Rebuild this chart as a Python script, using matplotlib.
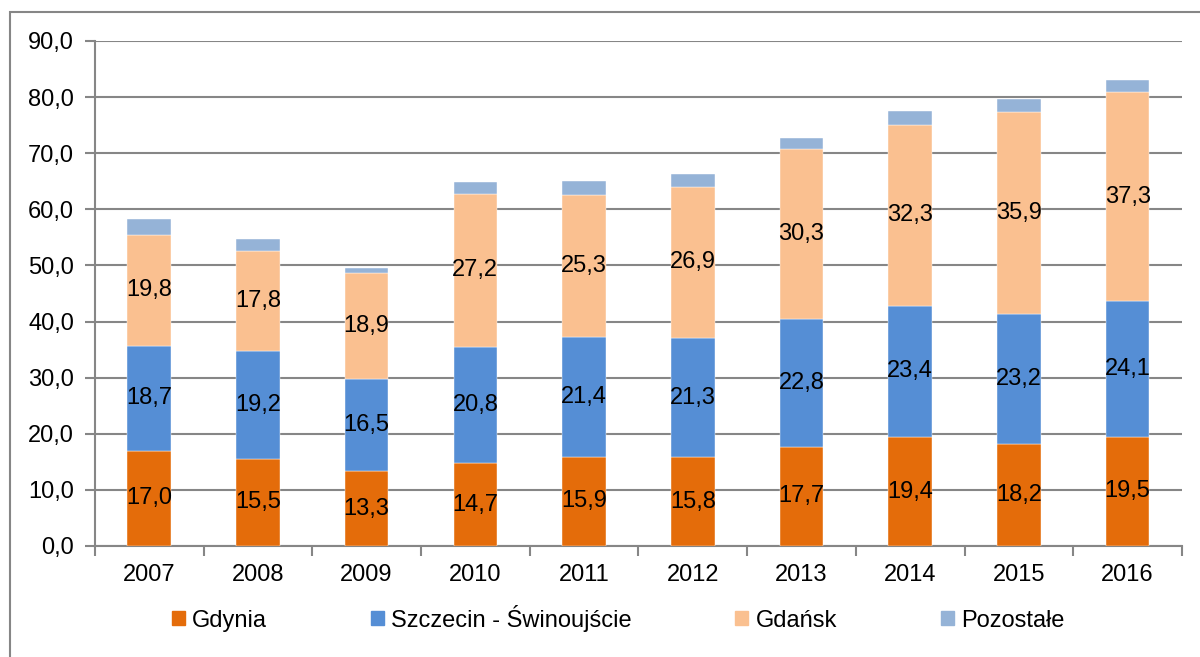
import matplotlib.pyplot as plt
import matplotlib.patches as mpatches
import numpy as np

plt.rcParams['font.family'] = ['Liberation Sans', 'DejaVu Sans']

years = ['2007', '2008', '2009', '2010', '2011', '2012', '2013', '2014', '2015', '2016']
gdynia = [17.0, 15.5, 13.3, 14.7, 15.9, 15.8, 17.7, 19.4, 18.2, 19.5]
szczecin = [18.7, 19.2, 16.5, 20.8, 21.4, 21.3, 22.8, 23.4, 23.2, 24.1]
gdansk = [19.8, 17.8, 18.9, 27.2, 25.3, 26.9, 30.3, 32.3, 35.9, 37.3]
pozostale = [2.7, 2.2, 0.9, 2.2, 2.5, 2.3, 1.9, 2.4, 2.4, 2.1]

series = [
    ('Gdynia', gdynia, '#E46C0A', True),
    ('Szczecin - Świnoujście', szczecin, '#558ED5', True),
    ('Gdańsk', gdansk, '#FAC090', True),
    ('Pozostałe', pozostale, '#95B3D7', False),
]

grid_col = '#868686'
fs = 17

fig = plt.figure(figsize=(12, 6.57), dpi=100)
ax = fig.add_axes([0.079, 0.169, 0.906, 0.7686])

x = np.arange(len(years))
bottom = np.zeros(len(years))
for name, vals, col, show in series:
    vals = np.array(vals)
    ax.bar(x, vals, 0.4, bottom=bottom, color=col, label=name, zorder=3,
           edgecolor='white', linewidth=0.3)
    if show:
        for xi, b, v in zip(x, bottom, vals):
            ax.text(xi, b + v / 2, f'{v:.1f}'.replace('.', ','), ha='center',
                    va='center', fontsize=fs, color='black', zorder=4)
    bottom += vals

ax.set_xlim(-0.5, len(years) - 0.5)
ax.set_ylim(0, 90)
ax.set_yticks(np.arange(0, 91, 10))
ax.set_yticklabels([f'{v:.1f}'.replace('.', ',') for v in np.arange(0, 91, 10)])
ax.set_xticks(x)
ax.set_xticklabels(years)
ax.set_xticks(np.arange(-0.5, len(years), 1), minor=True)
ax.tick_params(axis='x', which='major', length=0, pad=13, labelsize=fs)
ax.tick_params(axis='x', which='minor', length=7, width=1.5, color=grid_col)
ax.tick_params(axis='y', length=7, width=1.5, color=grid_col, labelsize=fs, pad=8)

ax.grid(axis='y', color=grid_col, linewidth=1.5, zorder=0)
for s in ['top', 'right']:
    ax.spines[s].set_visible(False)
ax.spines['left'].set_color(grid_col)
ax.spines['left'].set_linewidth(1.5)
ax.spines['bottom'].set_color(grid_col)
ax.spines['bottom'].set_linewidth(1.5)

handles = [mpatches.Patch(color=c, label=n) for n, _, c, _ in series]
fig.legend(handles=handles, loc='center', bbox_to_anchor=(0.515, 0.059), ncol=4,
           frameon=False, fontsize=fs, handlelength=0.55, handleheight=0.55,
           handletextpad=0.3, columnspacing=4.4)

# outer frame
fig.patches.append(mpatches.Rectangle((10 / 1200, -0.1), 1.2, 1 - 12 / 657 + 0.1,
                                      transform=fig.transFigure, fill=False,
                                      edgecolor=grid_col, linewidth=1.5))

fig.savefig('out.png', dpi=100)
